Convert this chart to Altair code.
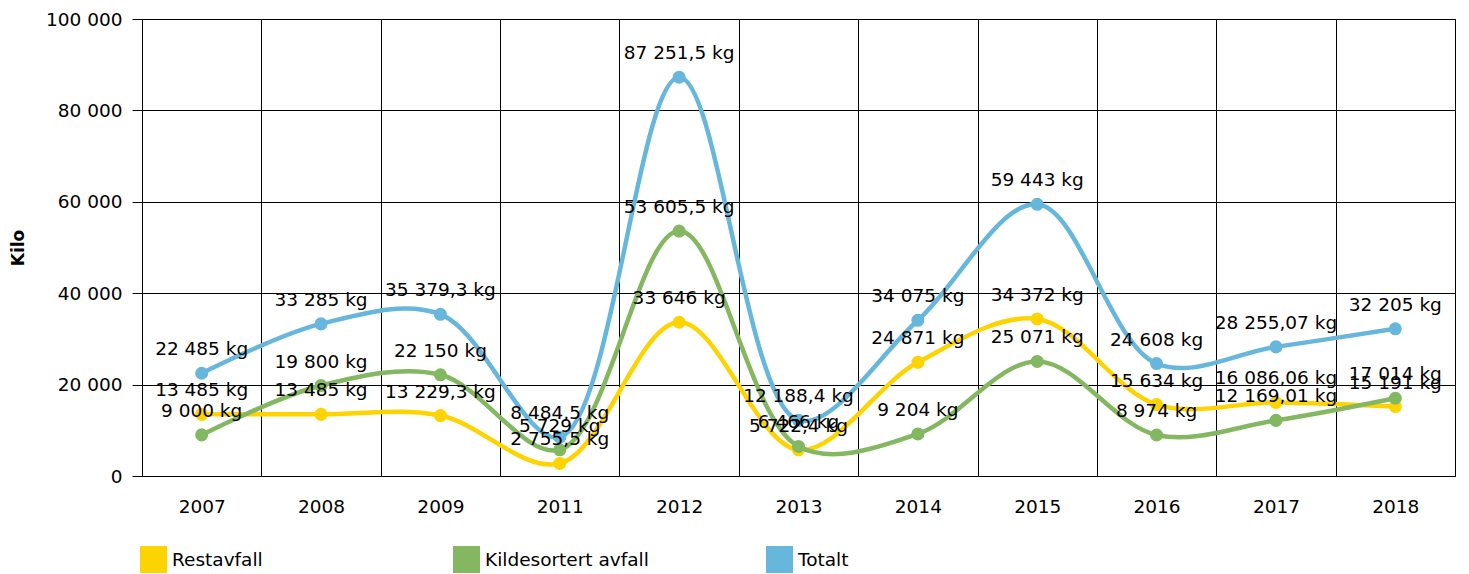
import altair as alt
import pandas as pd

years = ["2007", "2008", "2009", "2011", "2012", "2013", "2014", "2015", "2016", "2017", "2018"]
restavfall = [13485, 13485, 13229.3, 2755.5, 33646, 5722.4, 24871, 34372, 15634, 16086.06, 15191]
kildesortert = [9000, 19800, 22150, 5729, 53605.5, 6466, 9204, 25071, 8974, 12169.01, 17014]
totalt = [22485, 33285, 35379.3, 8484.5, 87251.5, 12188.4, 34075, 59443, 24608, 28255.07, 32205]
series = ["Restavfall", "Kildesortert avfall", "Totalt"]
colors = ["#FDD400", "#84B761", "#67B7DC"]
y_ticks = [0, 20000, 40000, 60000, 80000, 100000]


def fmt(v):
    s = repr(float(v))
    ip, dp = s.split(".")
    ip = f"{int(ip):,}".replace(",", " ")
    return ip + ("," + dp if dp != "0" else "") + " kg"


rows = []
for i, (name, vals) in enumerate(zip(series, [restavfall, kildesortert, totalt])):
    for yr, v in zip(years, vals):
        rows.append({"year": yr, "series": name, "value": v, "label": fmt(v), "idx": i})
df = pd.DataFrame(rows)

FONT = "DejaVu Sans"
FS = 18.5
W, H = 1313, 457

x = alt.X(
    "year:N",
    sort=years,
    scale=alt.Scale(paddingInner=0, paddingOuter=0),
    axis=alt.Axis(
        title=None, labelAngle=0, tickBand="extent", grid=True, gridColor="black",
        gridOpacity=1, ticks=False, tickSize=0, labelPadding=21, domainColor="black",
        labelFontSize=FS, labelColor="black", labelFont=FONT,
    ),
)
y = alt.Y(
    "value:Q",
    scale=alt.Scale(domain=[0, 100000], nice=False),
    axis=alt.Axis(
        title="Kilo", values=y_ticks, grid=True, gridColor="black", gridOpacity=1,
        tickColor="black", tickSize=10, labelPadding=10, domainColor="black",
        labelFontSize=FS, labelColor="black", labelFont=FONT,
        labelExpr="datum.value == 0 ? '0' : format(datum.value / 1000, 'd') + ' 000'",
        titleFontSize=17, titleFontWeight="bold", titleFont=FONT, titleColor="black",
        titleX=-124, titleY=H / 2, titleAngle=270, titleAlign="center", titleBaseline="middle",
    ),
)
color_scale = alt.Scale(domain=series, range=colors)

layers = []
for name, col in zip(series, colors):
    base = alt.Chart(df).transform_filter(alt.datum.series == name)
    layers.append(
        base.mark_line(interpolate="catmull-rom", strokeWidth=4.5, color=col).encode(x=x, y=y)
    )
    layers.append(
        base.mark_circle(size=170, opacity=1).encode(
            x=x, y=y,
            color=alt.Color(
                "series:N", scale=color_scale,
                legend=alt.Legend(
                    title=None, orient="none", legendX=-2, legendY=527, direction="horizontal",
                    symbolType="square", symbolSize=729, symbolStrokeWidth=0, symbolOpacity=1,
                    labelFontSize=FS, labelFont=FONT, labelColor="black", labelOffset=5,
                    labelLimit=400, gridAlign="all", columnPadding=117, values=series,
                ),
            ),
        )
    )

labels = alt.Chart(df).mark_text(
    fontSize=FS, font=FONT, color="black", dy=-24, baseline="middle", align="center"
).encode(x=x, y=y, text="label:N")

chart = (
    alt.layer(*layers, labels)
    .properties(
        width=W, height=H,
        autosize=alt.AutoSizeParams(type="none"),
        padding={"left": 134, "top": 11, "right": 6, "bottom": 98},
    )
    .configure(font=FONT)
    .configure_view(stroke="black")
)

chart.save("out.html", embed_options={"renderer": "svg", "actions": False})
